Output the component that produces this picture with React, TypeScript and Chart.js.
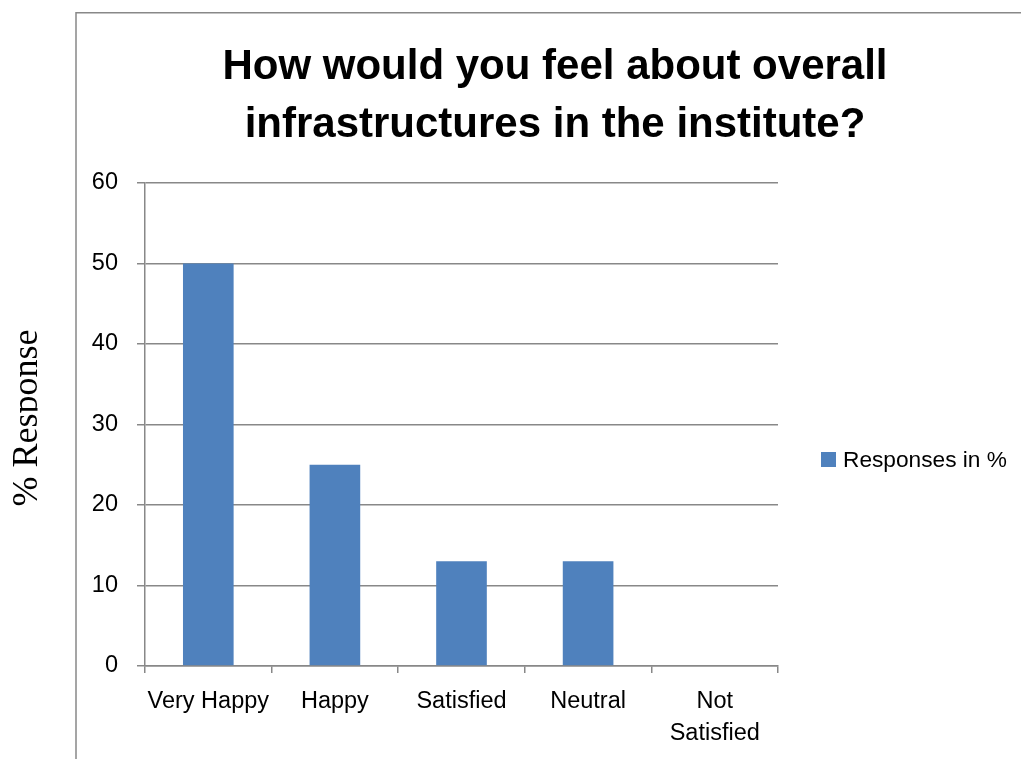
import React, { useEffect, useRef } from "react";
import { Chart, registerables } from "chart.js";

Chart.register(...registerables);

const categories: (string | string[])[] = ["Very Happy", "Happy", "Satisfied", "Neutral", ["Not", "Satisfied"]];
const responses: number[] = [50, 25, 13, 13, 0];
const seriesLabel = "Responses in %";
const titleLines: string[] = ["How would you feel about overall", "infrastructures in the institute?"];
const yAxisTitle = "% Response";
const yTickMin = 0;
const yTickMax = 60;
const yTickStep = 10;

const BAR_COLOR = "#4F81BD";
const GRID = "#888888";
const SANS = '"Liberation Sans", Arial, sans-serif';
const SERIF = '"Liberation Serif", "Times New Roman", serif';

const decorations = {
  id: "decorations",
  afterDraw(chart: any) {
    const ctx = chart.ctx as CanvasRenderingContext2D;
    ctx.save();
    // outer frame (left + top edges)
    ctx.strokeStyle = GRID;
    ctx.lineWidth = 1.5;
    ctx.beginPath();
    ctx.moveTo(76, 759);
    ctx.lineTo(76, 12.7);
    ctx.lineTo(1021, 12.7);
    ctx.stroke();

    // title
    ctx.fillStyle = "#000";
    ctx.font = `bold 42px ${SANS}`;
    ctx.textAlign = "center";
    ctx.textBaseline = "alphabetic";
    ctx.fillText(titleLines[0], 555, 78.5);
    ctx.fillText(titleLines[1], 555, 136.5);

    // legend
    const ds = chart.data.datasets[0];
    ctx.fillStyle = ds.backgroundColor;
    ctx.fillRect(821, 452, 15, 15);
    ctx.fillStyle = "#000";
    ctx.font = `22.7px ${SANS}`;
    ctx.textAlign = "left";
    ctx.fillText(ds.label, 843, 466.5);
    ctx.restore();

    // y axis title (rotated, clipped at the baseline like the reference)
    ctx.save();
    ctx.beginPath();
    ctx.rect(0, 0, 37.5, 759);
    ctx.clip();
    ctx.translate(37, 418);
    ctx.rotate(-Math.PI / 2);
    ctx.fillStyle = "#000";
    ctx.font = `36px ${SERIF}`;
    ctx.textAlign = "center";
    ctx.textBaseline = "alphabetic";
    ctx.fillText(yAxisTitle, 0, 0);
    ctx.restore();
  },
};

export default function App() {
  const ref = useRef<HTMLCanvasElement | null>(null);

  useEffect(() => {
    if (!ref.current) return;
    const chart = new Chart(ref.current, {
      type: "bar",
      data: {
        labels: categories,
        datasets: [
          {
            label: seriesLabel,
            data: responses,
            backgroundColor: BAR_COLOR,
            borderWidth: 0,
            barPercentage: 0.4,
            categoryPercentage: 1.0,
          },
        ],
      },
      options: {
        responsive: false,
        animation: false,
        layout: { padding: { left: 0, top: 183, right: 243, bottom: 0 } },
        plugins: {
          legend: { display: false },
          title: { display: false },
          tooltip: { enabled: false },
        },
        scales: {
          x: {
            grid: {
              display: true,
              drawOnChartArea: false,
              drawTicks: true,
              tickLength: 7,
              offset: true,
              color: GRID,
              lineWidth: 1.5,
            },
            border: { display: true, color: GRID, width: 1.5 },
            ticks: {
              color: "#000",
              font: { family: SANS, size: 23.5, lineHeight: 1.36 },
              padding: 13,
              maxRotation: 0,
              autoSkip: false,
            },
            afterFit: (s: any) => {
              s.height = 93;
            },
          },
          y: {
            min: yTickMin,
            max: yTickMax,
            grid: {
              color: GRID,
              lineWidth: 1.5,
              drawTicks: true,
              tickLength: 8,
            },
            border: { display: true, color: GRID, width: 1.5 },
            ticks: {
              stepSize: yTickStep,
              color: "#000",
              font: { family: SANS, size: 23.5 },
              padding: 19,
            },
            afterFit: (s: any) => {
              s.width = 145;
            },
          },
        },
      },
      plugins: [decorations],
    });
    return () => chart.destroy();
  }, []);

  return (
    <div style={{ position: "absolute", left: 0, top: 0, width: 1021, height: 759, background: "#fff" }}>
      <canvas ref={ref} width={1021} height={759} style={{ display: "block", width: 1021, height: 759 }} />
    </div>
  );
}
